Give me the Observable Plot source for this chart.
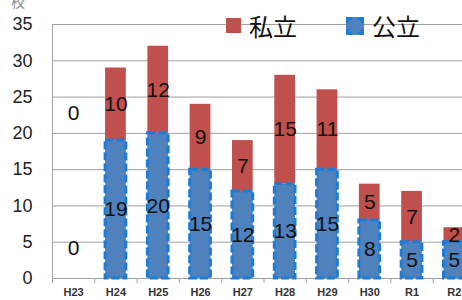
<!DOCTYPE html>
<html>
<head>
<meta charset="utf-8">
<script src="https://cdn.jsdelivr.net/npm/d3@7"></script>
<script src="https://cdn.jsdelivr.net/npm/@observablehq/plot@0.6"></script>
<style>
  html, body { margin: 0; padding: 0; background: #fff; }
  #wrap { position: relative; width: 462px; height: 300px; overflow: hidden; font-family: "Liberation Sans", Arial, sans-serif; }
  #unit { position: absolute; left: 11px; top: -9px; font: 14px "Noto Sans CJK JP"; color: #888; }
  .leg { position: absolute; top: 8px; font: 24px "Noto Sans CJK JP"; color: #111; display: flex; align-items: center; }
  .sw { display: inline-block; width: 14px; height: 14px; margin-right: 8px; }
</style>
</head>
<body>
<div id="wrap">
  <div id="chart"></div>
  <div id="unit">校</div>
  <div class="leg" style="left:226px;"><span class="sw" style="background:#C0504D;width:15px;height:15px;"></span>私立</div>
  <div class="leg" style="left:346px;"><span class="sw" style="background:#4F81BD;width:12px;height:12px;border:3px dashed #1C7CD5;"></span>公立</div>
</div>
<script>
const categories = ["H23", "H24", "H25", "H26", "H27", "H28", "H29", "H30", "R1", "R2"];
const publicValues = [0, 19, 20, 15, 12, 13, 15, 8, 5, 5];
const privateValues = [0, 10, 12, 9, 7, 15, 11, 5, 7, 2];
const yTicks = [0, 5, 10, 15, 20, 25, 30, 35];

const half = 0.245;
const pub = categories.map((c, i) => ({i, y1: 0, y2: publicValues[i], v: publicValues[i]}));
const pri = categories.map((c, i) => ({i, y1: publicValues[i], y2: publicValues[i] + privateValues[i], v: privateValues[i]}));

const pubLabels = pub.map(d => ({i: d.i, v: d.v, y: d.v === 0 ? 4.1 : (d.y1 + d.y2) / 2}));
const priLabels = pri.map(d => ({i: d.i, v: d.v, y: d.v === 0 ? 22.7 : (d.y1 + d.y2) / 2}));

const bounds = d3.range(categories.length + 1).map(k => k - 0.5);

const chart = Plot.plot({
  width: 462,
  height: 300,
  marginTop: 24,
  marginBottom: 22,
  marginLeft: 52,
  marginRight: 0,
  style: {fontFamily: "'Liberation Sans', Arial, sans-serif", background: "#fff"},
  x: {type: "linear", domain: [-0.5, categories.length - 0.5], range: [52, 475]},
  y: {domain: [0, 35], range: [278, 24]},
  marks: [
    Plot.gridY(yTicks.filter(t => t > 0), {stroke: "#a0a0a0", strokeOpacity: 1}),
    Plot.ruleX([-0.5], {stroke: "#a0a0a0"}),
    Plot.ruleY([0], {stroke: "#a0a0a0"}),
    Plot.axisY(yTicks, {tickSize: 0, tickPadding: 20, fontSize: 18, fill: "#222", label: null}),
    Plot.axisX(bounds, {tickSize: 5, stroke: "#a0a0a0", tickFormat: () => "", label: null}),
    Plot.axisX(d3.range(categories.length), {tickSize: 0, tickPadding: 10, fontSize: 11, fontWeight: "bold", fill: "#333", tickFormat: i => categories[i], label: null}),
    Plot.rect(pri.filter(d => d.v > 0), {x1: d => d.i - half, x2: d => d.i + half, y1: "y1", y2: "y2", fill: "#C0504D"}),
    Plot.rect(pub.filter(d => d.v > 0), {x1: d => d.i - half, x2: d => d.i + half, y1: "y1", y2: "y2", fill: "#4F81BD", stroke: "#1C7CD5", strokeWidth: 3, strokeDasharray: "8,3"}),
    Plot.text(pubLabels, {x: "i", y: "y", text: d => String(d.v), fontSize: 21, fill: "#111"}),
    Plot.text(priLabels, {x: "i", y: "y", text: d => String(d.v), fontSize: 21, fill: "#111"})
  ]
});
document.getElementById("chart").appendChild(chart);
</script>
</body>
</html>
